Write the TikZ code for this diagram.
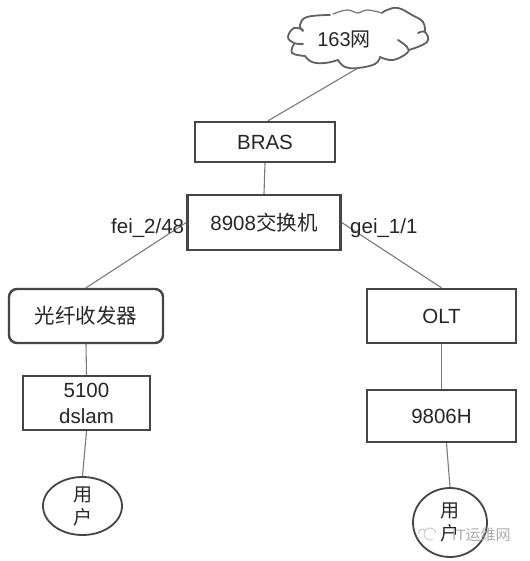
\documentclass[tikz,border=0pt]{standalone}
\usepackage{fontspec}
\setmainfont{Liberation Sans}
\newfontfamily\cjk{Noto Sans CJK SC}
\usetikzlibrary{shapes.geometric}
\definecolor{edgecol}{gray}{0.48}
\definecolor{boxcol}{gray}{0.27}
\definecolor{txtcol}{gray}{0.15}
\tikzset{
  netbox/.style={draw=boxcol,line width=2.4pt,minimum height=#1,inner sep=0pt,text=txtcol,font=\fontsize{20.5}{26}\selectfont,align=center},
  link/.style={draw=edgecol,line width=1.1pt},
  lbl/.style={text=txtcol,font=\fontsize{20.5}{24}\selectfont,inner sep=0pt},
  lobe/.style={draw=boxcol!85,line width=1.8pt,line cap=round,smooth,tension=0.7},
  usernode/.style={ellipse,draw=boxcol,line width=1.8pt,inner sep=0pt,text=txtcol,align=center}
}
\begin{document}
\begin{tikzpicture}[x=1pt,y=-1pt]
\useasboundingbox (0,0) rectangle (529,561);
\fill[white] (0,0) rectangle (529,561);
% cloud outline
\draw[lobe] plot coordinates {(330,15) (307,17) (300,25) (303,31)};
\draw[lobe] plot coordinates {(303,30) (294,28) (288,37) (294,43) (303,44)};
\draw[lobe] plot coordinates {(294,44) (292,53) (305,56)};
\draw[lobe] plot coordinates {(305,56) (312,62) (325,63) (338,60)};
\draw[lobe] plot coordinates {(338,60) (345,67) (358,68) (375,64) (380,57)};
\draw[lobe] plot coordinates {(380,57) (393,60) (407,53) (407,47) (398,40)};
\draw[lobe] plot coordinates {(409,50) (427,42) (425,32) (418,33)};
\draw[lobe] plot coordinates {(425,32) (423,22) (412,15) (398,8) (387,10) (382,13)};
\draw[lobe,line width=1.3pt,draw=boxcol!70] plot coordinates {(382,13) (367,10) (358,13) (347,10) (333,14)};
\node[inner sep=0pt,text=txtcol,font=\fontsize{20}{24}\selectfont] (net) at (344,39) {163{\cjk 网}};
\coordinate (netbot) at (358,68);
\node[netbox=40pt,minimum width=140pt] (bras) at (265,142) {BRAS};
\node[netbox=55pt,minimum width=153pt] (sw) at (264,222.5) {8908{\cjk 交换机}};
\node[netbox=54pt,minimum width=154pt,rounded corners=8pt] (fc) at (86,316) {\cjk 光纤收发器};
\node[netbox=54pt,minimum width=127pt] (dslam) at (86.5,403) {5100\\dslam};
\node[netbox=54pt,minimum width=149pt] (olt) at (441.5,316) {OLT};
\node[netbox=52pt,minimum width=149pt] (h) at (441.5,416) {9806H};
\node[usernode,minimum width=79pt,minimum height=58pt,font=\fontsize{19}{23}\cjk] (u1) at (82.5,506) {用\\户};
\node[usernode,minimum width=74pt,minimum height=69pt,font=\fontsize{19}{23}\cjk] (u2) at (450,522.5) {用\\户};
\draw[link] (netbot) -- ([xshift=3pt]bras.north);
\draw[link] (bras.south) -- (sw.north);
\draw[link] (sw.west) -- (fc.north);
\draw[link] (sw.east) -- (olt.north);
\draw[link] (fc.south) -- (dslam.north);
\draw[link] (dslam.south) -- (u1.north);
\draw[link] (olt.south) -- (h.north);
\draw[link] ([xshift=5pt]h.south) -- (u2.north);
\node[lbl,anchor=base west] (fei) at (111,233) {fei\_2/48};
\node[lbl,anchor=base west] (gei) at (350,233) {gei\_1/1};
% watermark
\draw[black!22,line width=0.9pt] (436,533) arc[start angle=10,end angle=300,radius=6pt];
\draw[black!22,line width=0.9pt] (426,531) arc[start angle=30,end angle=200,radius=4pt];
\node[anchor=west,inner sep=0pt,text=black!32,font=\fontsize{15}{17}\selectfont] (wm) at (452,535) {IT{\cjk 运维网}};
\end{tikzpicture}
\end{document}
